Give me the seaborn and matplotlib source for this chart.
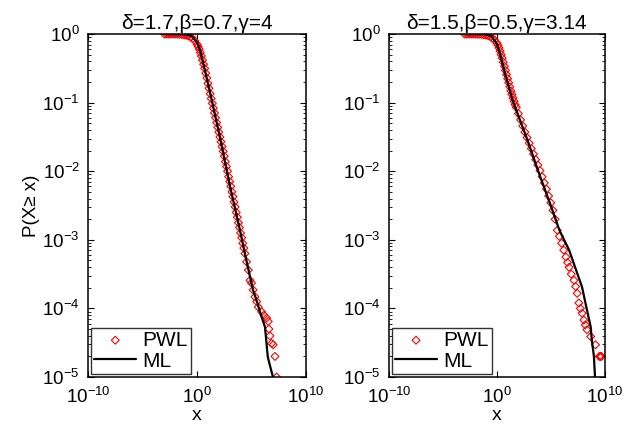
import numpy as np
import pandas as pd
import matplotlib
matplotlib.use('Agg')
import matplotlib.pyplot as plt
import seaborn as sns

# data, stored as log10 values
# left panel: delta=1.7, beta=0.7, gamma=4
pwl1_lx = [-3.0, -2.8, -2.6, -2.4, -2.2, -2.0, -1.8, -1.6, -1.4, -1.2, -1.0, -0.8, -0.6, -0.4, -0.2,
           0.0, 0.1, 0.2, 0.3, 0.4, 0.5, 0.6, 0.7, 0.8, 0.9, 1.0, 1.1, 1.2, 1.3, 1.4, 1.5, 1.6, 1.7,
           1.8, 1.9, 2.0, 2.1, 2.2, 2.3, 2.4, 2.5, 2.6, 2.7, 2.8, 2.9, 3.0, 3.1, 3.2, 3.3, 3.4, 3.5,
           3.6, 3.7, 3.8, 3.9, 4.0, 4.1, 4.2, 4.3, 4.4, 4.55, 4.71, 4.86, 5.0, 5.15, 5.32, 5.48, 5.63,
           5.93, 6.15, 6.39, 6.54, 6.6, 6.7, 6.85, 7.0, 7.16, 7.31]
pwl1_ly = [0, 0, 0, 0, 0, 0, -0.002, -0.004, -0.007, -0.011, -0.017, -0.027, -0.042, -0.065, -0.1,
           -0.15, -0.18, -0.22, -0.27, -0.32, -0.38, -0.44, -0.50, -0.57, -0.64, -0.72, -0.79, -0.87,
           -0.94, -1.01, -1.08, -1.15, -1.22, -1.29, -1.36, -1.43, -1.50, -1.57, -1.64, -1.71, -1.78,
           -1.86, -1.93, -2.00, -2.08, -2.15, -2.22, -2.30, -2.37, -2.45, -2.52, -2.60, -2.67, -2.75,
           -2.82, -2.90, -2.97, -3.05, -3.12, -3.20, -3.32, -3.44, -3.59, -3.63, -3.73, -3.83, -3.90,
           -3.98, -4.05, -4.10, -4.14, -4.19, -4.30, -4.40, -4.51, -4.53, -4.70, -5.0]
ml1_lx = [-3.0, -2.0, -1.0, -0.5, 0.0, 0.3, 0.8, 1.4, 2.1, 3.0, 3.94, 4.6, 5.14, 5.5, 5.96, 6.24, 6.5, 6.97, 7.05]
ml1_ly = [0, 0, -0.005, -0.03, -0.12, -0.25, -0.58, -1.0, -1.5, -2.2, -2.86, -3.35, -3.73, -3.9, -4.14, -4.27, -4.71, -5.0, -5.2]

# right panel: delta=1.5, beta=0.5, gamma=3.14
pwl2_lx = [-3.0, -2.8, -2.6, -2.4, -2.2, -2.0, -1.8, -1.6, -1.4, -1.2, -1.0, -0.8, -0.6, -0.4, -0.2,
           0.0, 0.1, 0.2, 0.3, 0.4, 0.5, 0.6, 0.7, 0.8, 0.9, 1.0, 1.1, 1.2, 1.3, 1.4, 1.5, 1.6, 1.7,
           1.8, 2.0, 2.2, 2.4, 2.6, 2.8, 3.0, 3.2, 3.4,
           3.6, 3.8, 4.0, 4.2, 4.4, 4.6, 4.8, 5.0, 5.2, 5.4, 5.6, 5.8, 6.0, 6.2, 6.4, 6.55, 6.7, 6.9,
           7.15, 7.3, 7.45, 7.6, 7.75, 7.9, 8.07, 8.2, 8.35, 8.7, 9.15, 9.5, 9.6, 9.7]
pwl2_ly = [0, 0, 0, 0, 0, 0, -0.002, -0.004, -0.006, -0.01, -0.015, -0.024, -0.038, -0.06, -0.09,
           -0.13, -0.16, -0.2, -0.25, -0.3, -0.35, -0.41, -0.47, -0.53, -0.59, -0.65, -0.71, -0.77,
           -0.83, -0.88, -0.93, -0.98, -1.03, -1.07, -1.16, -1.25, -1.34,
           -1.43, -1.51, -1.59, -1.67, -1.75, -1.83, -1.91, -1.99, -2.08, -2.17, -2.26, -2.36, -2.46,
           -2.57, -2.7, -2.86, -2.95, -3.05, -3.15, -3.25, -3.33, -3.4, -3.5, -3.59, -3.68, -3.78,
           -3.92, -4.0, -4.07, -4.17, -4.24, -4.31, -4.41, -4.53, -4.7, -4.7, -4.7]
ml2_lx = [-3.0, -1.5, -1.0, -0.5, 0.0, 0.28, 0.8, 1.5, 2.85, 4.0, 5.0, 5.8, 6.7, 7.9, 8.35, 8.7, 8.8, 9.0, 9.1, 9.12]
ml2_ly = [0, 0, -0.005, -0.03, -0.14, -0.28, -0.6, -0.98, -1.55, -2.07, -2.5, -2.86, -3.15, -3.69, -4.02, -4.27, -4.46, -4.7, -5.0, -5.2]

titles = ['δ=1.7,β=0.7,γ=4', 'δ=1.5,β=0.5,γ=3.14']
x_ticks = [-10, 0, 10]
y_ticks = [0, -1, -2, -3, -4, -5]

sns.set_style('ticks')
plt.rcParams['font.family'] = ['Liberation Sans', 'DejaVu Sans']
plt.rcParams['mathtext.default'] = 'regular'
plt.rcParams['axes.linewidth'] = 1.1
for key in ['text.color', 'axes.labelcolor', 'xtick.color', 'ytick.color']:
    plt.rcParams[key] = 'black'

fig = plt.figure(figsize=(6.44, 4.26), dpi=100)
ax1 = fig.add_axes([0.137, 0.115, 0.338, 0.805])
ax2 = fig.add_axes([0.604, 0.115, 0.335, 0.805])

panels = [(ax1, pwl1_lx, pwl1_ly, ml1_lx, ml1_ly), (ax2, pwl2_lx, pwl2_ly, ml2_lx, ml2_ly)]
for i, (ax, plx, ply, mlx, mly) in enumerate(panels):
    pwl = pd.DataFrame({'x': np.power(10.0, plx), 'y': np.power(10.0, ply)})
    ml = pd.DataFrame({'x': np.power(10.0, mlx), 'y': np.power(10.0, mly)})
    ax.set_xscale('log')
    ax.set_yscale('log')
    sns.scatterplot(data=pwl, x='x', y='y', ax=ax, marker='D', s=16, facecolor='none',
                    edgecolor='red', linewidth=0.8, label='PWL', zorder=2)
    sns.lineplot(data=ml, x='x', y='y', ax=ax, sort=False, color='black', lw=1.6,
                 label='ML', zorder=3)
    ax.set_xlim(1e-10, 1e10)
    ax.set_ylim(1e-5, 1e0)
    ax.set_xticks([10.0 ** t for t in x_ticks])
    ax.set_xticklabels(['$10^{%d}$' % t for t in x_ticks], fontsize=13.5)
    ax.xaxis.set_minor_locator(matplotlib.ticker.NullLocator())
    ax.set_yticks([10.0 ** t for t in y_ticks])
    ax.set_yticklabels(['$10^{%d}$' % t for t in y_ticks], fontsize=13.5)
    ax.yaxis.set_minor_locator(matplotlib.ticker.LogLocator(base=10, subs=np.arange(2, 10)))
    ax.tick_params(which='both', direction='in', top=True, right=True, color='black')
    ax.tick_params(which='major', length=4, width=0.8)
    ax.tick_params(axis='y', which='major', pad=6)
    ax.tick_params(axis='x', which='major', pad=7)
    ax.tick_params(which='minor', length=2, width=0.6)
    for sp in ax.spines.values():
        sp.set_color('black')
    ax.set_title(titles[i], fontsize=15, pad=4)
    ax.set_xlabel('x', fontsize=14, labelpad=0)
    ax.set_ylabel('')
    leg = ax.legend(loc='lower left', fontsize=15, frameon=True, fancybox=False,
                    edgecolor='black', borderaxespad=0.15, handlelength=2.0,
                    handletextpad=0.3, borderpad=0.15, labelspacing=0.1)
    leg.get_frame().set_linewidth(1.0)

ax1.set_ylabel('P(X≥ x)', fontsize=13.5, labelpad=2)

fig.savefig('out.png', dpi=100)
